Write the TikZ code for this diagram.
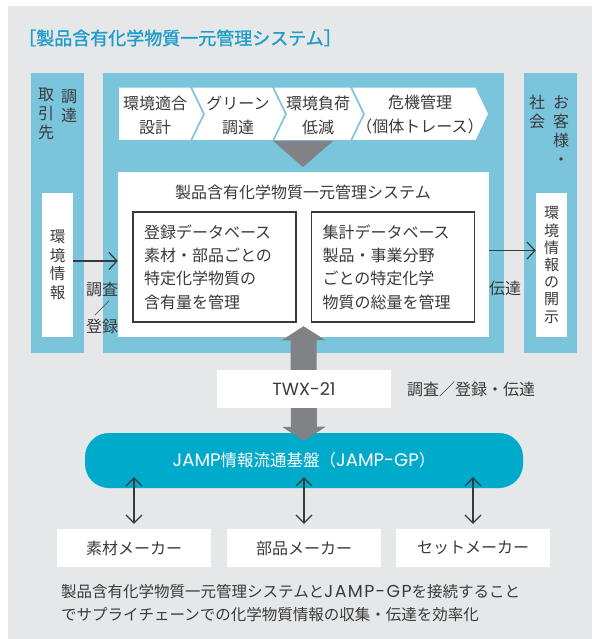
\documentclass[tikz,border=0pt]{standalone}
\usepackage{fontspec}
\setmainfont{Noto Sans CJK JP}
\newfontfamily\titlefont{Noto Sans CJK JP}[FakeBold=1.2]
\newfontfamily\latfont{Poppins}[Scale=1.1]
\newfontfamily\latwide{Poppins}[Scale=1.12, LetterSpace=8]
\usetikzlibrary{arrows.meta}

\definecolor{bggray}{HTML}{E6E7E8}
\definecolor{panelblue}{HTML}{7AC4DC}
\definecolor{titleblue}{HTML}{1E9DC8}
\definecolor{jampblue}{HTML}{00AACB}
\definecolor{arrowgray}{HTML}{808285}
\definecolor{txt}{HTML}{3A3A3A}

\tikzset{
  chev/.style={fill=white, draw=panelblue, line width=1.5pt},
  twoline/.style={align=center, font=\fontsize{16}{24}\selectfont},
  tate/.style={align=center, font=\fontsize{16}{19}\selectfont},
  db/.style={draw=txt, line width=1.2pt, fill=white, minimum width=163pt,
    minimum height=110pt, text width=141pt, align=left,
    font=\fontsize{16}{23.3}\selectfont},
  infobox/.style={fill=white, minimum width=31pt, minimum height=144pt, align=center},
  maker/.style={fill=white, minimum width=154pt, minimum height=38pt},
  conn/.style={draw=txt, line width=1.2pt, -{Straight Barb[length=8pt,width=17pt]}},
  dconn/.style={draw=txt, line width=1.2pt,
    {Straight Barb[length=8pt,width=16pt]}-{Straight Barb[length=8pt,width=16pt]}},
  bigarrow/.style={draw=arrowgray, line width=26pt,
    {Triangle[length=14pt,width=43pt]}-{Triangle[length=14pt,width=43pt]}}
}

\begin{document}
\begin{tikzpicture}[x=1pt, y=-1pt, every node/.style={text=txt, inner sep=0pt},
    font=\fontsize{16}{19}\selectfont]
  \useasboundingbox (0,0) rectangle (592,639);
  \fill[bggray] (8,6) rectangle (592,639);

  \node[text=titleblue, font=\titlefont\fontsize{18}{20}\selectfont] (title) at (180,38)
    {［製品含有化学物質一元管理システム］};

  % three blue columns
  \fill[panelblue] (31,73) rectangle (84,353);
  \fill[panelblue] (103,73) rectangle (504,353);
  \fill[panelblue] (524,73) rectangle (577,353);

  % process chevrons
  \filldraw[chev] (118,87) -- (191,87) -- (204,114) -- (191,141) -- (118,141) -- cycle;
  \filldraw[chev] (191,87) -- (273,87) -- (286,114) -- (273,141) -- (191,141) -- (204,114) -- cycle;
  \filldraw[chev] (273,87) -- (351,87) -- (364,114) -- (351,141) -- (273,141) -- (286,114) -- cycle;
  \filldraw[chev] (351,87) -- (476,87) -- (489,114) -- (476,141) -- (351,141) -- (364,114) -- cycle;
  \node[twoline] (ch1) at (155,115) {環境適合\\設計};
  \node[twoline] (ch2) at (238,115) {グリーン\\調達};
  \node[twoline] (ch3) at (318,115) {環境負荷\\低減};
  \node[twoline] (ch4) at (420,115) {危機管理\\（個体トレース）};
  \fill[arrowgray] (273,141) -- (333,141) -- (303,167) -- cycle;

  % management system
  \node[fill=white, minimum width=371pt, minimum height=165pt] (sys) at (303.5,254.5) {};
  \node (systitle) at (303,192) {製品含有化学物質一元管理システム};
  \node[db] (regdb) at (214.5,267) {登録データベース\\素材・部品ごとの\\特定化学物質の\\含有量を管理};
  \node[db] (sumdb) at (393,267) {集計データベース\\製品・事業分野\\ごとの特定化学\\物質の総量を管理};

  % suppliers / customers
  \node[tate] (supl1) at (69,106) {調\\達};
  \node[tate] (supl2) at (46,113.5) {取\\引\\先};
  \node[tate] (cust1) at (561,130.5) {お\\客\\様\\・};
  \node[tate] (cust2) at (537,111.5) {社\\会};
  \node[infobox, font=\fontsize{15.5}{18.7}\selectfont] (infoL) at (57.5,265) {環\\境\\情\\報};
  \node[infobox, font=\fontsize{15}{17.2}\selectfont] (infoR) at (551.5,265) {環\\境\\情\\報\\の\\開\\示};

  \draw[conn] ([yshift=4pt]infoL.east) -- ([yshift=4pt]infoL.east -| sys.west);
  \node[align=center, font=\fontsize{16}{18.5}\selectfont] (lblin) at (102,308) {調査\\／\\登録};
  \draw[conn] ([yshift=4pt]sys.east) -- ([yshift=4pt]sys.east -| infoR.west);
  \node (lblout) at (505,288) {伝達};

  % JAMP-GP
  \node[fill=jampblue, rounded corners=24pt, minimum width=438pt, minimum height=55pt,
    text=white, font=\fontsize{16.5}{20}\selectfont] (jamp) at (304,460.5)
    {{\latfont JAMP}情報流通基盤（{\latfont JAMP-GP}）};
  \draw[bigarrow] ([yshift=11pt]sys.south) -- ([yshift=-8pt]jamp.north);
  \node[fill=white, minimum width=174pt, minimum height=38pt] (twx) at (304,389)
    {\latfont TWX-21};
  \node (twxlbl) at (471,389) {調査／登録・伝達};

  % makers
  \node[maker] (mk1) at (134,548) {素材メーカー};
  \node[maker] (mk2) at (304,548) {部品メーカー};
  \node[maker] (mk3) at (473,548) {セットメーカー};
  \foreach \m in {mk1,mk2,mk3}
    \draw[dconn] ([yshift=11pt]jamp.south -| \m.north) -- ([yshift=5pt]\m.north);

  \node[align=left, anchor=west, font=\fontsize{15.5}{23}\selectfont] (caption) at (61,603.5)
    {製品含有化学物質一元管理システムと{\latwide JAMP-GP}を接続すること\\でサプライチェーンでの化学物質情報の収集・伝達を効率化};
\end{tikzpicture}
\end{document}
